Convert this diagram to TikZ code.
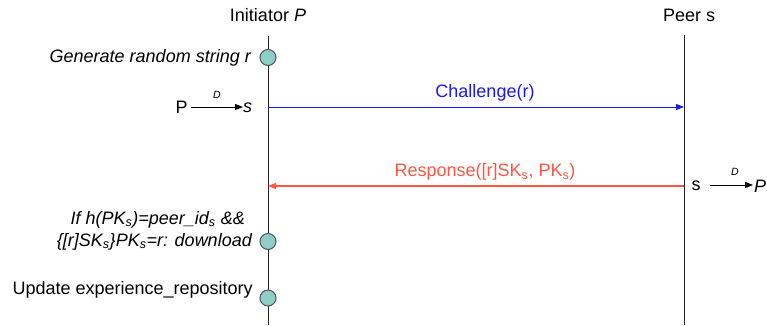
\documentclass[tikz,border=0pt]{standalone}
\usepackage{fontspec}
\setmainfont{Liberation Sans}
\usetikzlibrary{arrows.meta}
\definecolor{evfill}{HTML}{8FCDC9}
\definecolor{evline}{HTML}{4A5656}
\definecolor{chblue}{HTML}{1A1AF0}
\definecolor{rsred}{HTML}{FF5545}
\tikzset{
  lifeline/.style={draw=black!85, line width=1pt},
  event/.style={circle, draw=evline, fill=evfill, line width=1pt, minimum size=16pt, inner sep=0pt},
  msgtext/.style={font=\fontsize{18}{20}\selectfont, inner sep=0pt},
  txt/.style={font=\fontsize{18}{20}\selectfont, inner sep=0pt},
  note/.style={font=\fontsize{18}{22}\selectfont\itshape, inner sep=0pt, align=right},
  tiny/.style={font=\fontsize{10.5}{11}\selectfont\itshape, inner sep=0pt},
  tip/.style={-{Triangle[length=8pt,width=6pt]}},
}
\begin{document}
\begin{tikzpicture}[x=1pt,y=-1pt]
\useasboundingbox (0,0) rectangle (767,325);
% actors
\node[txt] (ini) at (268,15) {Initiator \textit{P}};
\node[txt] (peer) at (689,15) {Peer s};
% lifelines
\coordinate (itop) at (268,36);
\coordinate (ibot) at (268,325);
\coordinate (ptop) at (684,35);
\coordinate (pbot) at (684,325);
\draw[lifeline] (itop) -- (ibot);
\draw[lifeline] (ptop) -- (pbot);
% events on the initiator
\node[event] (e1) at (268,57.5) {};
\node[event] (e2) at (268,241.5) {};
\node[event] (e3) at (268,298) {};
\node[note, anchor=east] (n1) at (251,58) {Generate random string r};
\node[note, anchor=south east] (n2) at (252,250) {If h(PK\textsubscript{s})=peer\_id\textsubscript{s} \&\&\hspace*{7pt}\\ \{[r]SK\textsubscript{s}\}PK\textsubscript{s}=r: download};
\node[txt, anchor=east] (n3) at (253,290) {Update experience\_repository};
% messages
\coordinate (c1) at (268,107);
\coordinate (c2) at (684,107);
\draw[chblue, line width=1pt, tip] (c1) -- (c2);
\node[msgtext, text=chblue] (chl) at (485,93) {Challenge(r)};
\coordinate (r1) at (684,186);
\coordinate (r2) at (268,186);
\draw[rsred, line width=1.3pt, tip] (r1) -- (r2);
\node[msgtext, text=rsred] (rsp) at (485,172) {Response([r]SK\textsubscript{s}, PK\textsubscript{s})};
% delegation marks
\node[txt] (lp) at (181.5,107) {P};
\node[txt] (ls) at (247.5,108) {\textit{s}};
\coordinate (la) at (191,107);
\coordinate (lb) at (243,107);
\draw[black, line width=0.9pt, tip] (la) -- (lb);
\node[tiny] (ld) at (217,95) {D};
\node[txt] (rs) at (696,186) {s};
\node[txt] (rp) at (760,186) {\textit{P}};
\coordinate (ra) at (710,185);
\coordinate (rb) at (753,185);
\draw[black, line width=0.9pt, tip] (ra) -- (rb);
\node[tiny] (rd) at (735,172) {D};
\end{tikzpicture}
\end{document}
